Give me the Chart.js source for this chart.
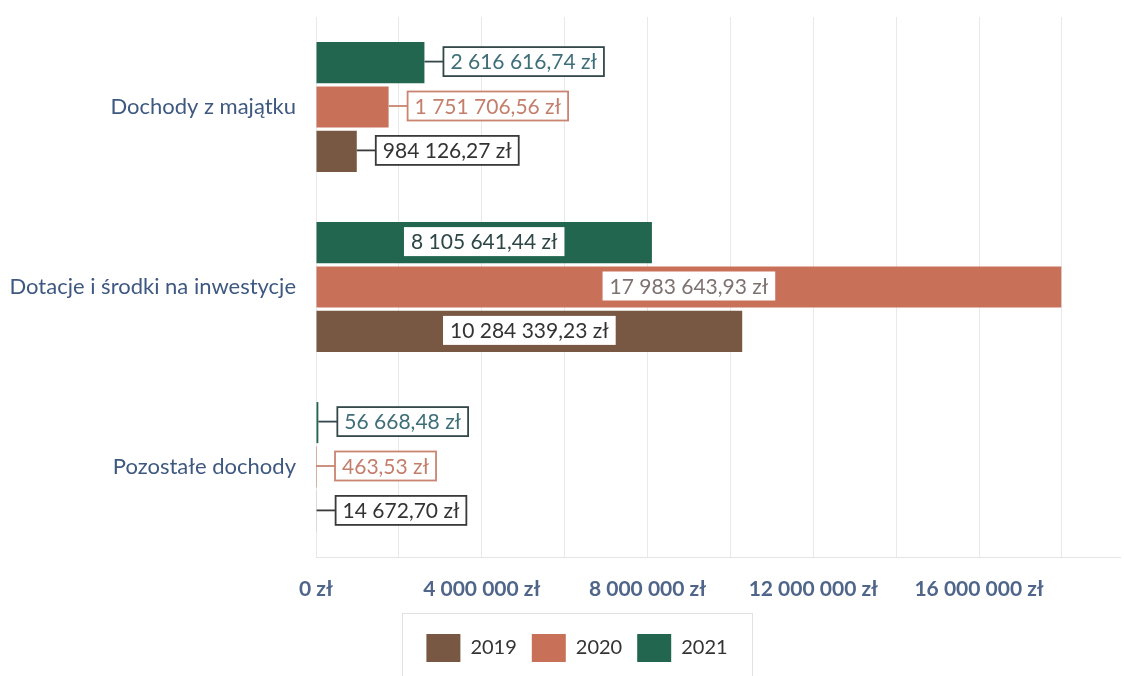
<!DOCTYPE html>
<html>
<head>
<meta charset="utf-8">
<script src="https://cdn.jsdelivr.net/npm/chart.js@4"></script>
<style>
  html, body { margin: 0; padding: 0; background: #ffffff; }
  #wrap { width: 1124px; height: 676px; position: relative; }
</style>
</head>
<body>
<div id="wrap"><canvas id="c" width="1124" height="676"></canvas></div>
<script>
// ---- data ----
const categories = ['Dochody z majątku', 'Dotacje i środki na inwestycje', 'Pozostałe dochody'];
const years = ['2019', '2020', '2021'];
const values2019 = [984126.27, 10284339.23, 14672.70];
const values2020 = [1751706.56, 17983643.93, 463.53];
const values2021 = [2616616.74, 8105641.44, 56668.48];
const tickValues = [0, 2000000, 4000000, 6000000, 8000000, 10000000, 12000000, 14000000, 16000000, 18000000];
const labelledTicks = [0, 4000000, 8000000, 12000000, 16000000];
const axisMax = 19400000;

// ---- styles ----
const colors = { '2019': '#795843', '2020': '#c87058', '2021': '#236650' };
const labelBorder = { '2019': '#3a3a3a', '2020': '#c98572', '2021': '#34484a' };
const labelText = { '2019': '#333333', '2020': '#c47e6c', '2021': '#3e6e78' };
const insideText = { '2019': '#333333', '2020': '#7d7270', '2021': '#2e4646' };

function groupInt(n) {
  return String(n).replace(/\B(?=(\d{3})+(?!\d))/g, ' ');
}
function fmtMoney(v) {
  const parts = v.toFixed(2).split('.');
  return groupInt(parts[0]) + ',' + parts[1] + ' zł';
}
function fmtTick(v) {
  return groupInt(Math.round(v)) + ' zł';
}

const dataByYear = { '2019': values2019, '2020': values2020, '2021': values2021 };
// top-to-bottom order within each group: 2021, 2020, 2019
const order = ['2021', '2020', '2019'];
const datasets = order.map(y => ({
  label: y,
  data: dataByYear[y],
  backgroundColor: colors[y],
  borderWidth: 0,
  categoryPercentage: 0.74,
  barPercentage: 0.925
}));

const LABEL_FONT = '21px Lato';

const valueLabels = {
  id: 'valueLabels',
  afterDatasetsDraw(chart) {
    const ctx = chart.ctx;
    ctx.save();
    ctx.font = LABEL_FONT;
    ctx.textBaseline = 'middle';
    ctx.textAlign = 'left';
    chart.data.datasets.forEach((ds, di) => {
      const meta = chart.getDatasetMeta(di);
      const y = ds.label;
      meta.data.forEach((bar, i) => {
        const v = ds.data[i];
        const text = fmtMoney(v);
        const tw = ctx.measureText(text).width;
        const padX = 7;
        const boxW = tw + padX * 2;
        const boxH = 29;
        const barLen = bar.x - bar.base;
        const cy = bar.y - 1;
        if (barLen > boxW + 30) {
          const cx = (bar.x + bar.base) / 2;
          const left = cx - boxW / 2;
          ctx.fillStyle = '#ffffff';
          ctx.fillRect(left, cy - boxH / 2, boxW, boxH);
          ctx.fillStyle = insideText[y];
          ctx.fillText(text, left + padX, cy + 1);
        } else {
          const lead = 19;
          const left = bar.x + lead;
          ctx.strokeStyle = labelBorder[y];
          ctx.lineWidth = 1.8;
          ctx.beginPath();
          ctx.moveTo(bar.x, cy);
          ctx.lineTo(left, cy);
          ctx.stroke();
          ctx.fillStyle = '#ffffff';
          ctx.fillRect(left, cy - boxH / 2, boxW, boxH);
          ctx.strokeRect(left, cy - boxH / 2, boxW, boxH);
          ctx.fillStyle = labelText[y];
          ctx.fillText(text, left + padX, cy + 1);
        }
      });
    });
    ctx.restore();
  }
};

// let the category labels use the full left margin (no clipping)
const widenYLabels = {
  id: 'widenYLabels',
  afterLayout(chart) {
    const s = chart.scales.y;
    if (s) { s.left = 0; }
  }
};

const legendFrame = {
  id: 'legendFrame',
  afterDraw(chart) {
    const lg = chart.legend;
    if (!lg || !lg.legendHitBoxes || !lg.legendHitBoxes.length) return;
    const hb = lg.legendHitBoxes;
    let l = Infinity, r = -Infinity, t = Infinity;
    hb.forEach(b => { l = Math.min(l, b.left); r = Math.max(r, b.left + b.width); t = Math.min(t, b.top); });
    const ctx = chart.ctx;
    ctx.save();
    ctx.strokeStyle = '#e2e2e2';
    ctx.lineWidth = 1;
    ctx.strokeRect(Math.round(l - 24) + 0.5, Math.round(t - 21) + 0.5, Math.round(r - l + 49), 100);
    ctx.restore();
  }
};

new Chart(document.getElementById('c'), {
  type: 'bar',
  data: { labels: categories, datasets: datasets },
  plugins: [valueLabels, widenYLabels, legendFrame],
  options: {
    indexAxis: 'y',
    responsive: false,
    animation: false,
    devicePixelRatio: 1,
    layout: { padding: { top: 17, right: 4, left: 34, bottom: 4 } },
    scales: {
      x: {
        min: 0,
        max: axisMax,
        afterBuildTicks(s) { s.ticks = tickValues.map(v => ({ value: v })); },
        afterFit(s) { s.height = 62; s.paddingLeft = 0; s.paddingRight = 0; },
        grid: { color: '#e9e9e9', drawTicks: false },
        border: { display: true, color: '#e4e4e4' },
        ticks: {
          autoSkip: false,
          maxRotation: 0,
          padding: 20,
          color: '#4f6589',
          font: { family: 'Lato', size: 21, weight: 'bold' },
          callback(v) { return labelledTicks.includes(v) ? fmtTick(v) : ''; }
        }
      },
      y: {
        afterFit(s) { s.width = 282; s.paddingTop = 0; s.paddingBottom = 0; },
        grid: { display: false, drawTicks: false },
        border: { display: false },
        ticks: {
          padding: 20,
          color: '#3e5880',
          font: { family: 'Lato', size: 22 }
        }
      }
    },
    plugins: {
      legend: {
        position: 'bottom',
        reverse: true,
        labels: {
          boxWidth: 34,
          boxHeight: 28,
          padding: 15,
          color: '#333333',
          font: { family: 'Lato', size: 20 }
        }
      },
      tooltip: { enabled: false }
    }
  }
});
</script>
</body>
</html>
